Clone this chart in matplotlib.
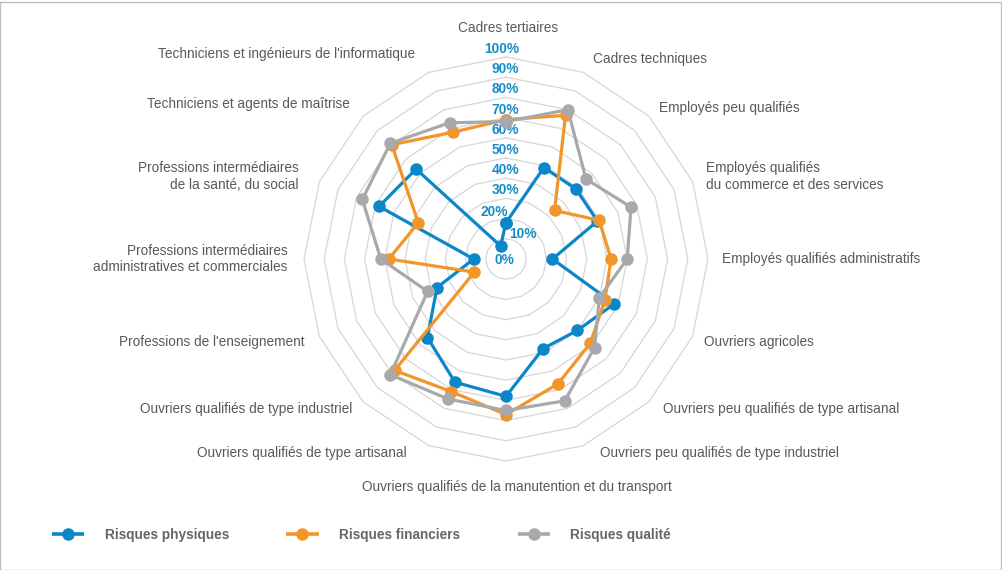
import numpy as np
import matplotlib
matplotlib.use("Agg")
import matplotlib.pyplot as plt
from matplotlib.patches import Rectangle
from matplotlib.lines import Line2D

# ---------------- data ----------------
categories = [
    "Cadres tertiaires",
    "Cadres techniques",
    "Employés peu qualifiés",
    "Employés qualifiés\ndu commerce et des services",
    "Employés qualifiés administratifs",
    "Ouvriers agricoles",
    "Ouvriers peu qualifiés de type artisanal",
    "Ouvriers peu qualifiés de type industriel",
    "Ouvriers qualifiés de la manutention et du transport",
    "Ouvriers qualifiés de type artisanal",
    "Ouvriers qualifiés de type industriel",
    "Professions de l'enseignement",
    "Professions intermédiaires\nadministratives et commerciales",
    "Professions intermédiaires\nde la santé, du social",
    "Techniciens et agents de maîtrise",
    "Techniciens et ingénieurs de l'informatique",
]
risques_physiques = [18, 49, 49, 49, 23, 58, 50, 48, 68, 66, 55, 37, 16, 68, 63, 7]
risques_financiers = [69, 77, 34, 50, 52, 53, 59, 67, 77, 71, 78, 17, 58, 47, 80, 68]
risques_qualite = [68, 80, 56, 67, 60, 50, 62, 76, 75, 75, 81, 42, 62, 77, 81, 73]
series_names = ["Risques physiques", "Risques financiers", "Risques qualité"]
tick_values = [0, 10, 20, 30, 40, 50, 60, 70, 80, 90, 100]
tick_labels = ["0%", "10%", "20%", "30%", "40%", "50%", "60%", "70%", "80%", "90%", "100%"]

# ---------------- style ----------------
BLUE = "#0B87C9"
ORANGE = "#F2952A"
GREY = "#A9A9AD"
TEXT = "#595959"
RING = "#D6D6D6"
TICK_BLUE = "#178CCB"

plt.rcParams["font.family"] = ["Liberation Sans", "DejaVu Sans"]

W, H = 1003, 570
fig = plt.figure(figsize=(W / 100, H / 100), dpi=100)
fig.patch.set_facecolor("white")

cx, cy, R = 506, 259, 202
ax = fig.add_axes([(cx - R) / W, (H - cy - R) / H, 2 * R / W, 2 * R / H],
                  projection="polar")
ax.set_theta_zero_location("N")
ax.set_theta_direction(-1)
ax.set_ylim(0, 100)
ax.grid(False)
ax.spines["polar"].set_visible(False)
ax.set_xticks([])
ax.set_yticks([])
ax.patch.set_alpha(0)

n = len(categories)
theta = np.arange(n) * 2 * np.pi / n
theta_closed = np.append(theta, theta[0])

# polygon rings
for v in tick_values[1:]:
    ax.plot(theta_closed, [v] * (n + 1), color=RING, lw=0.9, zorder=1, clip_on=False)

# radial tick labels (layout offsets in pixels)
tick_dx = {0: 8, 10: 31, 20: 2}
tick_dy = {0: -1, 10: 5, 20: 7}
for v, lab in zip(tick_values, tick_labels):
    ax.annotate(lab, xy=(0, v), xytext=(tick_dx.get(v, 13), tick_dy.get(v, 8)),
                textcoords="offset pixels", ha="right", va="center",
                color=TICK_BLUE, fontweight="bold", fontsize=9.9, zorder=2,
                annotation_clip=False)

# series
handles = []
for vals, color, name in zip([risques_physiques, risques_financiers, risques_qualite],
                             [BLUE, ORANGE, GREY], series_names):
    closed = list(vals) + [vals[0]]
    ax.plot(theta_closed, closed, color=color, lw=2.3, marker="o", ms=8,
            zorder=3, clip_on=False, solid_joinstyle="round")
    handles.append(Line2D([], [], color=color, lw=2.6, marker="o", ms=8,
                          solid_capstyle="butt"))

# category labels (pixel nudges for layout)
label_dx = [0, 4, 0, 0, 0, -2, 4, 11, 0, -17, -1, -2, -2, -8, -3, -8]
label_dy = [0, 0, -2, 0, 0, 0, 3, 6, 0, 6, 3, 0, 0, 0, 2, 5]
for i, (t, lab) in enumerate(zip(theta, categories)):
    s = np.sin(t)
    if abs(s) < 0.1:
        ha = "center"
        if np.cos(t) > 0:
            r, dx = 114.4, 2
        else:
            r, dx = 112.9, 11
    else:
        ha = "left" if s > 0 else "right"
        r, dx = 107, 0
    ax.annotate(lab, xy=(t, r), xytext=(dx + label_dx[i], label_dy[i]),
                textcoords="offset pixels",
                ha=ha, va="center", multialignment=ha, color=TEXT, fontsize=9.8,
                linespacing=1.25, annotation_clip=False)

# legend
leg = fig.legend(handles, series_names, loc="center left",
                 bbox_to_anchor=(52 / W, 1 - 535 / H), ncol=3, frameon=False,
                 handlelength=2.35, handletextpad=1.5, columnspacing=4.2,
                 borderpad=0, borderaxespad=0, numpoints=1,
                 prop={"weight": "bold", "size": 9.85})
for txt in leg.get_texts():
    txt.set_color("#666666")

# outer frame
fig.add_artist(Rectangle((0.5 / W, 0.5 / H), (W - 2) / W, (H - 2) / H,
                         transform=fig.transFigure, fill=False,
                         edgecolor="#BFBFBF", lw=1))

fig.savefig("out.png", dpi=100, facecolor="white")
